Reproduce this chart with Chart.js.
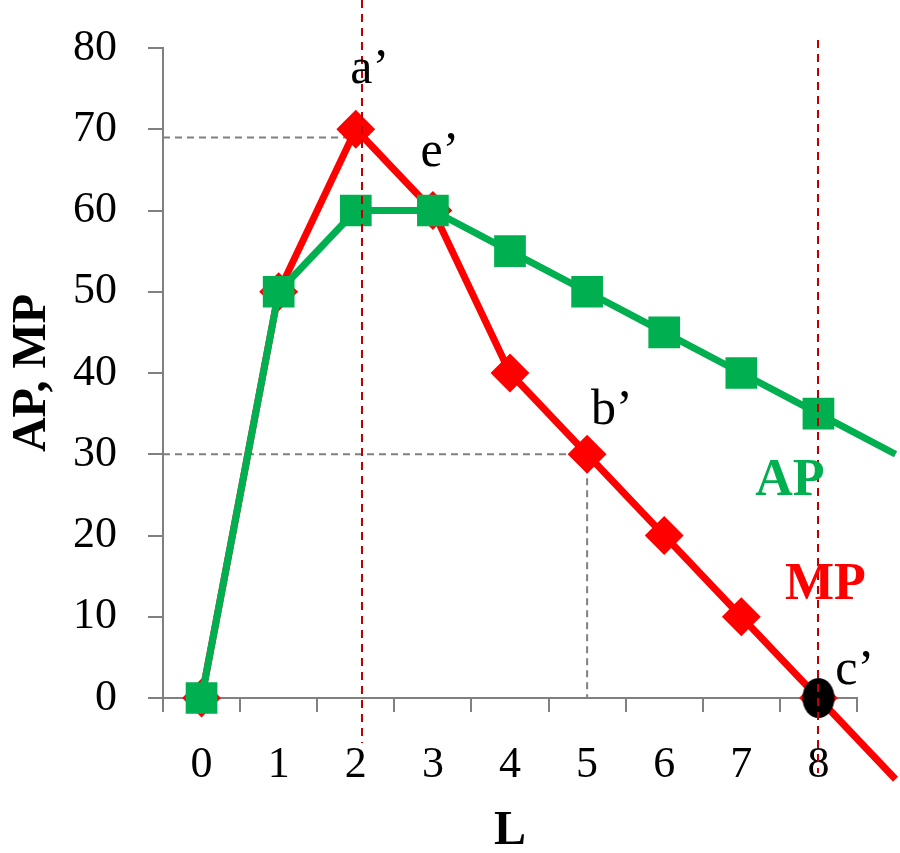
<!DOCTYPE html>
<html>
<head>
<meta charset="utf-8">
<title>AP, MP</title>
<script src="https://cdn.jsdelivr.net/npm/chart.js@4.4.1/dist/chart.umd.min.js"></script>
<style>
  html, body { margin: 0; padding: 0; background: #ffffff; }
  #wrap { position: relative; width: 900px; height: 853px; }
</style>
</head>
<body>
<div id="wrap"><canvas id="prodChart"></canvas></div>
<script>
// ---- Data
const labourUnits = [0, 1, 2, 3, 4, 5, 6, 7, 8, 9];   // 9 = where the lines leave the picture
const averageProduct = [0, 50, 60, 60, 55, 50, 45, 40, 35, 30];
const marginalProduct = [0, 50, 70, 60, 40, 30, 20, 10, 0, -10];
const xTickLabels = ["0", "1", "2", "3", "4", "5", "6", "7", "8"];
const yTickValues = [0, 10, 20, 30, 40, 50, 60, 70, 80];

// zero of MP (point c')
const mpZeroL = [8];
const mpZeroValue = [0];

// guide lines
const redGuideL = [2.08, 8];
const grayLevels = [69, 30];
const grayLevelEndL = [2, 5];
const grayDropL = [5];
const grayDropValue = [30];

// point names
const pointNames = ["a\u2019", "e\u2019", "b\u2019", "c\u2019"];
const pointNameL = [2.18, 3.09, 5.32, 8.47];
const pointNameValue = [77.3, 67.1, 35.4, 3.4];

const SERIF = "'Liberation Serif', 'DejaVu Serif', serif";
const GRAY = "#808080";
const GREEN = "#00b050";
const RED = "#ff0000";

function xy(xs, ys) {
  return xs.map(function (x, i) { return { x: x, y: ys[i] }; });
}

// black ellipse marker
const dot = document.createElement("canvas");
dot.width = 34; dot.height = 42;
(function () {
  const c = dot.getContext("2d");
  c.fillStyle = "#000000";
  c.beginPath();
  c.ellipse(17, 21, 16, 20, 0, 0, Math.PI * 2);
  c.fill();
})();

const guidesPlugin = {
  id: "guides",
  beforeDatasetsDraw: function (chart) {
    const ctx = chart.ctx, x = chart.scales.x, y = chart.scales.y;
    ctx.save();
    ctx.strokeStyle = GRAY;
    ctx.lineWidth = 2;
    ctx.setLineDash([7, 5]);
    grayLevels.forEach(function (v, i) {
      ctx.beginPath();
      ctx.moveTo(x.left, y.getPixelForValue(v));
      ctx.lineTo(x.getPixelForValue(grayLevelEndL[i]), y.getPixelForValue(v));
      ctx.stroke();
    });
    grayDropL.forEach(function (l, i) {
      ctx.beginPath();
      ctx.moveTo(x.getPixelForValue(l), y.getPixelForValue(grayDropValue[i]));
      ctx.lineTo(x.getPixelForValue(l), y.bottom);
      ctx.stroke();
    });
    ctx.restore();
  },
  afterDatasetsDraw: function (chart) {
    const ctx = chart.ctx, x = chart.scales.x, y = chart.scales.y;
    ctx.save();
    ctx.strokeStyle = "#c00000";
    ctx.lineWidth = 2;
    ctx.setLineDash([8, 6]);
    const tops = [0, 40];
    const bottoms = [743, 773];
    redGuideL.forEach(function (l, i) {
      const px = Math.round(x.getPixelForValue(l));
      ctx.beginPath();
      ctx.moveTo(px, tops[i]);
      ctx.lineTo(px, bottoms[i]);
      ctx.stroke();
    });
    ctx.setLineDash([]);

    // point names
    ctx.fillStyle = "#000000";
    ctx.font = "50px " + SERIF;
    ctx.textAlign = "center";
    ctx.textBaseline = "middle";
    pointNames.forEach(function (t, i) {
      ctx.fillText(t, x.getPixelForValue(pointNameL[i]), y.getPixelForValue(pointNameValue[i]));
    });

    // series names
    ctx.font = "bold 52px " + SERIF;
    ctx.fillStyle = GREEN;
    ctx.fillText("AP", x.getPixelForValue(7.63), y.getPixelForValue(26.6));
    ctx.fillStyle = RED;
    ctx.fillText("MP", x.getPixelForValue(8.09), y.getPixelForValue(13.9));
    ctx.restore();
  }
};

new Chart(document.getElementById("prodChart"), {
  type: "line",
  data: {
    datasets: [
      {
        label: "c'",
        data: xy(mpZeroL, mpZeroValue),
        showLine: false,
        pointStyle: dot,
        pointRadius: 20,
        clip: false
      },
      {
        label: "AP",
        data: xy(labourUnits, averageProduct),
        borderColor: GREEN,
        backgroundColor: GREEN,
        borderWidth: 7,
        pointStyle: "rect",
        pointRadius: labourUnits.map(function (l) { return l > 8 ? 0 : 21; }),
        pointBorderWidth: 2,
        pointBorderColor: GREEN,
        pointBackgroundColor: GREEN,
        borderJoinStyle: "round",
        clip: false
      },
      {
        label: "MP",
        data: xy(labourUnits, marginalProduct),
        borderColor: RED,
        backgroundColor: RED,
        borderWidth: 7,
        pointStyle: "rectRot",
        pointRadius: labourUnits.map(function (l) { return l > 8 ? 0 : 18; }),
        pointBorderWidth: 2,
        pointBorderColor: RED,
        pointBackgroundColor: RED,
        borderJoinStyle: "round",
        clip: false
      }
    ]
  },
  options: {
    responsive: true,
    maintainAspectRatio: false,
    animation: false,
    events: [],
    layout: { padding: { top: 48, right: 43, left: 0, bottom: 0 } },
    plugins: { legend: { display: false }, tooltip: { enabled: false } },
    elements: { line: { tension: 0 } },
    scales: {
      x: {
        type: "linear",
        min: -0.5,
        max: 8.5,
        afterFit: function (s) {
          s.height = 155;
          s.paddingLeft = 0;
          s.paddingRight = 0;
        },
        afterBuildTicks: function (s) {
          const t = [];
          for (let v = -0.5; v <= 8.5; v += 0.5) t.push({ value: v });
          s.ticks = t;
        },
        ticks: {
          autoSkip: false,
          maxRotation: 0,
          padding: 27,
          color: "#000000",
          font: { family: SERIF, size: 44 },
          callback: function (v) {
            return Number.isInteger(v) ? xTickLabels[v] : "";
          }
        },
        grid: {
          drawOnChartArea: false,
          tickLength: 14,
          lineWidth: 2,
          color: function (c) {
            return c.tick && !Number.isInteger(c.tick.value) ? GRAY : "rgba(0,0,0,0)";
          }
        },
        border: { display: true, color: GRAY, width: 2 },
        title: {
          display: true,
          text: "L",
          color: "#000000",
          font: { family: SERIF, size: 48, weight: "bold", lineHeight: 0.9 },
          padding: 0
        }
      },
      y: {
        min: 0,
        max: 80,
        afterFit: function (s) {
          s.width = 163;
          s.paddingTop = 0;
          s.paddingBottom = 0;
        },
        afterBuildTicks: function (s) {
          s.ticks = yTickValues.map(function (v) { return { value: v }; });
        },
        ticks: {
          padding: 31,
          color: "#000000",
          font: { family: SERIF, size: 44 }
        },
        grid: {
          drawOnChartArea: false,
          tickLength: 15,
          lineWidth: 2,
          color: GRAY
        },
        border: { display: true, color: GRAY, width: 2 },
        title: {
          display: true,
          text: "AP, MP",
          color: "#000000",
          font: { family: SERIF, size: 48, weight: "bold", lineHeight: 1.2 },
          padding: { top: 4, bottom: 0 }
        }
      }
    }
  },
  plugins: [guidesPlugin]
});
</script>
</body>
</html>
